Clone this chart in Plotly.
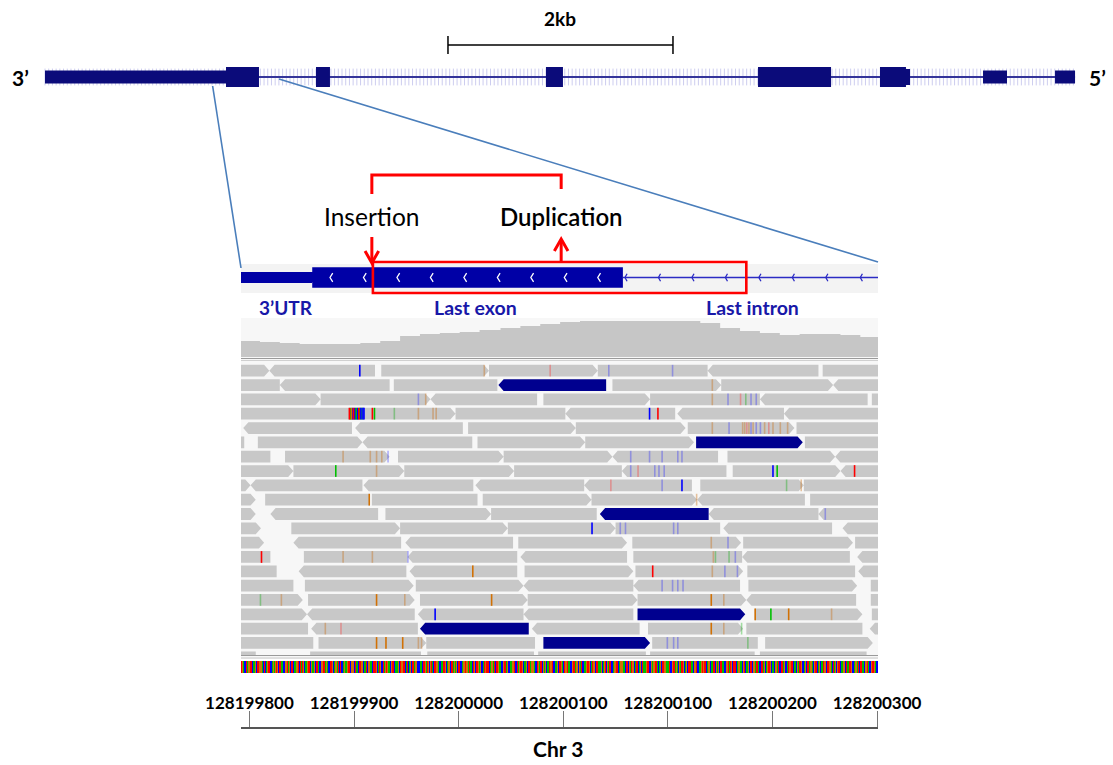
import numpy as np
import plotly.graph_objects as go

W, H = 1113, 765

# ---------------- gene overview track (kb measured from the 3' end) ----------------
exon_start_kb = [0.000, 1.609, 2.409, 4.453, 6.338, 7.422, 7.653, 8.338, 8.978]
exon_end_kb = [1.609, 1.902, 2.533, 4.604, 6.987, 7.653, 7.689, 8.551, 9.156]
exon_kind = ["utr", "cds", "cds", "cds", "cds", "cds", "mid", "utr", "utr"]
gene_span_kb = [0.0, 9.156]
scalebar_kb = [3.582, 5.582]
zoom_window_kb = [1.49, 2.08]

# ---------------- zoomed locus (bp offsets from view_start) ----------------
view_start = 128199800
view_offsets = [-8.1, 600.9]
ruler_offsets = [0, 100, 200, 300, 400, 500, 600]
ruler_labels = ["128199800", "128199900", "128200000", "128200100",
                "128200100", "128200200", "128200300"]

utr_offsets = [-10, 60]
last_exon_offsets = [60, 357]
last_intron_offsets = [357, 612]
exon_chevrons = [77, 109, 141, 173, 205, 237, 269, 301, 333]
intron_chevrons = [359, 391, 423, 455, 487, 519, 551, 584]

insertion_offset = 117
duplication_offset = 298
duplicated_box = [118, 475]

coverage_offsets = [-10, 10, 29, 48, 67, 87, 106, 125, 144, 163, 182, 201, 220, 240,
                    259, 278, 297, 316, 335, 373, 412, 431, 450, 469, 488, 507, 526,
                    545, 565, 584, 602]
coverage_depth = [16, 15, 14, 13, 13, 13, 14, 16, 21, 23, 24, 25, 27, 29,
                  31, 33, 35, 36, 36, 36, 36, 34, 29, 26, 24, 22, 23,
                  23, 22, 20, 18]

# aligned reads: (row, start, end, strand)  strand 1 = forward, -1 = reverse, 0 = clipped
gray_reads = [
    (1, -10, 19, 1), (1, 19, 120, -1), (1, 126, 229, 1), (1, 229, 333, 1), (1, 333, 438, 0), (1, 438, 544, -1), (1, 548, 612, 0),
    (2, -10, 29, 0), (2, 29, 134, -1), (2, 138, 237, 0), (2, 347, 451, 1), (2, 451, 558, 1), (2, 558, 612, -1),
    (3, -10, 68, 1), (3, 68, 173, 1), (3, 173, 275, -1), (3, 281, 383, 1), (3, 383, 488, 0), (3, 488, 591, -1), (3, 595, 612, 0),
    (4, -10, 95, 0), (4, 95, 197, 1), (4, 197, 302, 0), (4, 302, 407, -1), (4, 409, 511, -1), (4, 511, 612, -1),
    (5, -6, 98, -1), (5, 101, 204, -1), (5, 209, 312, 1), (5, 312, 417, 1), (5, 419, 521, 1), (5, 523, 612, 0),
    (6, -10, -5, 0), (6, 8, 108, 1), (6, 108, 213, -1), (6, 218, 321, 1), (6, 321, 425, 1), (6, 531, 612, 0),
    (7, -10, 20, 0), (7, 34, 134, 1), (7, 142, 243, 1), (7, 243, 347, 1), (7, 347, 448, -1), (7, 457, 560, 1), (7, 560, 612, -1),
    (8, -10, 42, 1), (8, 42, 148, 1), (8, 148, 253, 1), (8, 253, 356, 0), (8, 356, 456, -1), (8, 462, 565, 1), (8, 565, 612, -1),
    (9, -10, 1, 1), (9, 1, 108, -1), (9, 109, 214, -1), (9, 216, 320, -1), (9, 320, 423, -1), (9, 431, 530, 1), (9, 530, 612, 0),
    (10, -10, 6, 1), (10, 15, 115, 0), (10, 117, 218, 0), (10, 223, 327, 1), (10, 327, 428, 1), (10, 428, 531, -1), (10, 536, 612, 0),
    (11, -10, 6, 1), (11, 20, 123, -1), (11, 130, 231, 1), (11, 231, 332, 0), (11, 439, 544, -1), (11, 544, 612, -1),
    (12, -10, 11, 1), (12, 40, 144, 1), (12, 144, 247, 1), (12, 247, 350, 1), (12, 350, 450, 0), (12, 453, 557, -1), (12, 567, 612, -1),
    (13, -10, 14, 1), (13, 42, 145, -1), (13, 149, 252, -1), (13, 257, 361, 1), (13, 366, 470, 1), (13, 472, 577, 1), (13, 579, 612, 0),
    (14, -10, 20, 0), (14, 52, 151, 0), (14, 151, 256, -1), (14, 259, 361, -1), (14, 367, 471, 0), (14, 471, 574, -1), (14, 581, 612, -1),
    (15, -10, 26, 0), (15, 47, 150, -1), (15, 153, 256, -1), (15, 263, 367, 1), (15, 369, 472, 1), (15, 476, 579, 0), (15, 582, 612, -1),
    (16, -10, 42, 0), (16, 53, 157, 1), (16, 159, 262, 1), (16, 262, 367, -1), (16, 367, 469, -1), (16, 477, 581, 1), (16, 594, 612, 0),
    (17, -10, 51, 1), (17, 56, 158, 1), (17, 163, 266, 1), (17, 266, 371, 1), (17, 371, 475, 1), (17, 475, 580, -1), (17, 594, 612, 0),
    (18, -10, 55, 1), (18, 55, 158, -1), (18, 161, 262, -1), (18, 262, 367, -1), (18, 483, 586, 1), (18, 595, 612, 0),
    (19, -10, 56, 0), (19, 59, 161, -1), (19, 270, 373, -1), (19, 381, 472, 1), (19, 475, 586, 0), (19, 593, 612, -1),
    (20, -10, 61, 0), (20, 66, 169, 1), (20, 169, 273, 0), (20, 385, 486, 0), (20, 493, 596, 1),
    (21, -10, 6, 0), (21, 58, 164, 0), (21, 170, 272, 0), (21, 276, 379, 0), (21, 383, 483, 0), (21, 488, 590, 0),
]
# discordant reads supporting the tandem duplication
split_reads = [
    (2, 238, 341, -1), (6, 427, 529, 1), (11, 335, 439, -1),
    (18, 371, 474, 1), (19, 163, 267, -1), (20, 281, 383, 1),
]
# mismatching bases: (row, offset, base, high quality)
mismatches = [
    (1, 105, "C", 1), (1, 224, "G", 0), (1, 287, "T", 0), (1, 343, "C", 0), (1, 404, "C", 0),
    (2, 442, "G", 0),
    (3, 161, "C", 0), (3, 168, "G", 0), (3, 442, "G", 0), (3, 457, "C", 0), (3, 469, "T", 0),
    (3, 474, "A", 0), (3, 479, "C", 0), (3, 484, "C", 0),
    (4, 95, "T", 1), (4, 96, "A", 1), (4, 97, "G", 1), (4, 98, "C", 1), (4, 99, "T", 1),
    (4, 100, "C", 1), (4, 101, "A", 1), (4, 102, "A", 1), (4, 103, "C", 1), (4, 104, "T", 1),
    (4, 105, "A", 1), (4, 106, "C", 1), (4, 107, "A", 1), (4, 108, "C", 1), (4, 109, "C", 1),
    (4, 117, "T", 1), (4, 119, "A", 1), (4, 138, "A", 0), (4, 161, "G", 0), (4, 175, "G", 0),
    (4, 178, "G", 0), (4, 382, "C", 1), (4, 390, "T", 1),
    (5, 442, "G", 0), (5, 458, "C", 0), (5, 471, "G", 0), (5, 473, "G", 0), (5, 475, "T", 0),
    (5, 477, "G", 0), (5, 479, "C", 0), (5, 481, "G", 0), (5, 484, "C", 0), (5, 488, "C", 0),
    (5, 492, "G", 0), (5, 496, "T", 0), (5, 500, "G", 0), (5, 507, "G", 0), (5, 514, "G", 0),
    (7, 89, "G", 0), (7, 115, "G", 0), (7, 121, "G", 0), (7, 126, "G", 0), (7, 132, "C", 0),
    (7, 364, "C", 0), (7, 382, "C", 0), (7, 394, "C", 0), (7, 409, "C", 0), (7, 413, "C", 0),
    (8, 82, "A", 1), (8, 121, "G", 0), (8, 364, "C", 0), (8, 371, "T", 0), (8, 387, "C", 0),
    (8, 391, "C", 0), (8, 396, "C", 0), (8, 500, "C", 1), (8, 504, "A", 1), (8, 578, "T", 1),
    (9, 345, "T", 0), (9, 394, "C", 0), (9, 413, "C", 1), (9, 513, "A", 0), (9, 527, "G", 0),
    (10, 114, "G", 1), (10, 427, "G", 0),
    (11, 550, "C", 0),
    (12, 327, "C", 1), (12, 354, "C", 0), (12, 359, "C", 0), (12, 405, "C", 0), (12, 409, "C", 0),
    (13, 441, "G", 0), (13, 457, "C", 0),
    (14, 11, "T", 1), (14, 89, "G", 0), (14, 117, "G", 0), (14, 151, "C", 0), (14, 443, "G", 0),
    (14, 445, "A", 0), (14, 458, "A", 0), (14, 464, "C", 0),
    (15, 213, "G", 1), (15, 385, "T", 1), (15, 442, "G", 0), (15, 454, "C", 0), (15, 466, "C", 0),
    (16, 394, "C", 0), (16, 404, "C", 0), (16, 409, "C", 0), (16, 414, "C", 0),
    (17, 10, "A", 0), (17, 30, "G", 0), (17, 121, "G", 1), (17, 148, "G", 0), (17, 231, "G", 1),
    (17, 441, "G", 1), (17, 453, "G", 0),
    (18, 177, "C", 1), (18, 483, "G", 1), (18, 498, "A", 1), (18, 515, "G", 1), (18, 556, "G", 0),
    (19, 72, "G", 0), (19, 87, "T", 0), (19, 441, "G", 1), (19, 453, "G", 0), (19, 470, "A", 0),
    (20, 121, "G", 1), (20, 130, "G", 1), (20, 146, "G", 1), (20, 161, "G", 0), (20, 164, "G", 0),
    (20, 399, "C", 0), (20, 405, "C", 0), (20, 409, "C", 0), (20, 476, "A", 0),
]

# reference sequence across the view, first base at offset -8
sequence_start_offset = -8
reference_sequence = (
    "TGACCTAGGTTCAAGCTTGGACTCAGTTCCAGAGTGCTTAACGGTAGCTTCAAGGTCTAT"
    "GCAGTTCGAAGCTTACCGGTTAGACTTGCAGGATCTCCAGAAGTTCGGCTAACTTGGCAA"
    "TCGGAACTTGCATGCCTAGTGAACGTTCAAGCTGGTTCATCAGCTTAGGCCAACTTGATG"
    "CGTACTTGGACCATTGCAGGCTTAGAGCTTCCAGTGGATAACTGCTTGAGCCATGTTCAG"
    "GATCTTGAACCGTTAGCAAGGTCCTAGTTGCAAGCTTAGGACCTGATTCGAGCAATGGTC"
    "AAGCTTGACTGGTAACCGTTAGCGATCCAAGTTGCATGGCTTAAGCAGTCGATTCCAGGT"
    "TCAGGAACTTCGATGGCATTCAGCTAAGTTCCGAGGTTACAGCTTGGAATCCGTTAGACG"
    "ATTGCAGCTTAACGGTCCAAGTGTTCAGGCATTCGAGCTTAACCGGTATGCTTCAGGAAC"
    "GTCAAGCTTCGGATACCTTAGCAGTTGCAACGGATCTTAGCCATGGTTCAACGATTGCAG"
    "CTTAGGACGTTCAGCAATGCTTGGACTAGCGTTCAAGGCTATTGCCAGGATCTTAACGGT"
    "ACGTTGACCATGGTCAAGCTAGGCT"
)

# ---------------- styling ----------------
NAVY_TOP = "#0b0b7a"
GENE_BLUE = "#0000a6"
READ_GRAY = "#c8c8c8"
READ_BLUE = "#00008f"
RED = "#ff0000"
ZOOM_LINE = "#4a7ebb"
BASE_COLOR = {"A": "#00c000", "C": "#0000ff", "G": "#d17105", "T": "#ff0000"}
BASE_FAINT = {"A": "rgba(0,170,0,0.35)", "C": "rgba(40,40,255,0.35)",
              "G": "rgba(200,110,20,0.4)", "T": "rgba(255,40,40,0.35)"}
FONT = "Lato"

PX_PER_KB = 112.5
TOP_RANGE = [-0.4, -0.4 + W / PX_PER_KB]
LOWER_X = [241, 878]          # pixel span of the zoomed panel
ROW_PX, ROW0_PX = 14.33, 370.7
READS_PX = [360, 656]


def fy(px):
    return 1 - px / H


def fx(px):
    return px / W


def gpos(off):
    return view_start + np.asarray(off, dtype=float)


reads_range = [1 + (READS_PX[1] - ROW0_PX) / ROW_PX, 1 + (READS_PX[0] - ROW0_PX) / ROW_PX]

fig = go.Figure()

# ---------- overview gene ----------
hatch_x = np.arange(gene_span_kb[0], gene_span_kb[1], 0.033)
fig.add_trace(go.Scatter(
    x=hatch_x, y=np.zeros_like(hatch_x), mode="markers", xaxis="x", yaxis="y",
    marker=dict(symbol="line-ns", size=12, line=dict(width=1, color="rgba(130,130,215,0.4)")),
    hoverinfo="skip", showlegend=False))
fig.add_trace(go.Scatter(
    x=gene_span_kb, y=[0, 0], mode="lines", xaxis="x", yaxis="y",
    line=dict(color="#34349a", width=2.2), hoverinfo="skip", showlegend=False))

half_height = {"cds": 0.5, "utr": 0.33, "mid": 0.4}
ex, ey = [], []
for s, e, k in zip(exon_start_kb, exon_end_kb, exon_kind):
    h = half_height[k]
    ex += [s, e, e, s, s, None]
    ey += [-h, -h, h, h, -h, None]
fig.add_trace(go.Scatter(
    x=ex, y=ey, mode="lines", fill="toself", fillcolor=NAVY_TOP, xaxis="x", yaxis="y",
    line=dict(width=0, color=NAVY_TOP), hoverinfo="skip", showlegend=False))

# ---------- zoomed gene model ----------
gx, gy = [], []
for (s, e), h in ((utr_offsets, 0.36), (last_exon_offsets, 0.66)):
    gx += [s, e, e, s, s, None]
    gy += [-h, -h, h, h, -h, None]
fig.add_trace(go.Scatter(
    x=[None if v is None else view_start + v for v in gx], y=gy, mode="lines",
    fill="toself", fillcolor=GENE_BLUE, line=dict(width=0, color=GENE_BLUE),
    xaxis="x2", yaxis="y5", hoverinfo="skip", showlegend=False))
fig.add_trace(go.Scatter(
    x=gpos(last_intron_offsets), y=[0, 0], mode="lines", xaxis="x2", yaxis="y5",
    line=dict(color="#2b2bc4", width=1.4), hoverinfo="skip", showlegend=False))


def chevrons(offsets, depth, half):
    xs, ys = [], []
    for p in offsets:
        xs += [view_start + p + depth, view_start + p, view_start + p + depth, None]
        ys += [half, 0, -half, None]
    return xs, ys


cx, cy = chevrons(exon_chevrons, 2.6, 0.28)
fig.add_trace(go.Scatter(x=cx, y=cy, mode="lines", xaxis="x2", yaxis="y5",
                         line=dict(color="white", width=1.3), hoverinfo="skip", showlegend=False))
cx, cy = chevrons(intron_chevrons, 2.0, 0.24)
fig.add_trace(go.Scatter(x=cx, y=cy, mode="lines", xaxis="x2", yaxis="y5",
                         line=dict(color="#2b2bc4", width=1.3), hoverinfo="skip", showlegend=False))

# ---------- coverage ----------
fig.add_trace(go.Scatter(
    x=gpos(coverage_offsets), y=coverage_depth, mode="lines", line_shape="hv",
    fill="tozeroy", fillcolor="#c6c6c6", line=dict(width=0, color="#c6c6c6"),
    xaxis="x2", yaxis="y3", hoverinfo="skip", showlegend=False))

# ---------- reads ----------
HALF, TIP = 0.41, 5.0


def read_polygons(reads):
    xs, ys = [], []
    for row, s, e, d in reads:
        s, e = view_start + s, view_start + e
        if d == 1:
            px = [s, e - TIP, e, e - TIP, s, s]
            py = [row - HALF, row - HALF, row, row + HALF, row + HALF, row - HALF]
        elif d == -1:
            px = [s + TIP, e, e, s + TIP, s, s + TIP]
            py = [row - HALF, row - HALF, row + HALF, row + HALF, row, row - HALF]
        else:
            px = [s, e, e, s, s]
            py = [row - HALF, row - HALF, row + HALF, row + HALF, row - HALF]
        xs += px + [None]
        ys += py + [None]
    return xs, ys


rx, ry = read_polygons(gray_reads)
fig.add_trace(go.Scatter(x=rx, y=ry, mode="lines", fill="toself", fillcolor=READ_GRAY,
                         line=dict(width=0, color=READ_GRAY), xaxis="x2", yaxis="y2",
                         hoverinfo="skip", showlegend=False))
rx, ry = read_polygons(split_reads)
fig.add_trace(go.Scatter(x=rx, y=ry, mode="lines", fill="toself", fillcolor=READ_BLUE,
                         line=dict(width=0, color=READ_BLUE), xaxis="x2", yaxis="y2",
                         hoverinfo="skip", showlegend=False))

for quality in (0, 1):
    for base in "ACGT":
        mx, my = [], []
        for row, off, b, q in mismatches:
            if b == base and q == quality:
                mx += [view_start + off + 0.5] * 2 + [None]
                my += [row - HALF, row + HALF, None]
        if mx:
            color = BASE_COLOR[base] if quality else BASE_FAINT[base]
            fig.add_trace(go.Scatter(x=mx, y=my, mode="lines", xaxis="x2", yaxis="y2",
                                     line=dict(color=color, width=1.6),
                                     hoverinfo="skip", showlegend=False))

# ---------- reference sequence ----------
base_code = {"A": 0, "C": 1, "G": 2, "T": 3}
seq_x = view_start + sequence_start_offset + np.arange(len(reference_sequence))
fig.add_trace(go.Heatmap(
    x=seq_x, y=[0], z=[[base_code[b] for b in reference_sequence]], zmin=0, zmax=3,
    colorscale=[[0, BASE_COLOR["A"]], [0.25, BASE_COLOR["A"]], [0.25, BASE_COLOR["C"]],
                [0.5, BASE_COLOR["C"]], [0.5, BASE_COLOR["G"]], [0.75, BASE_COLOR["G"]],
                [0.75, BASE_COLOR["T"]], [1, BASE_COLOR["T"]]],
    showscale=False, xaxis="x2", yaxis="y4", hoverinfo="skip"))

# ruler anchor
fig.add_trace(go.Scatter(x=[None], y=[None], xaxis="x2", yaxis="y6", showlegend=False))

# ---------- shapes ----------
shapes = []
# panel backgrounds
shapes.append(dict(type="rect", xref="x2 domain", yref="paper", x0=0, x1=1,
                   y0=fy(657), y1=fy(318), fillcolor="#f7f7f7", line_width=0, layer="below"))
shapes.append(dict(type="rect", xref="x2 domain", yref="paper", x0=0, x1=1,
                   y0=fy(293), y1=fy(264), fillcolor="#f3f3f3", line_width=0, layer="below"))
# separator lines
for ypx, col in ((358.5, "#9a9a9a"), (360.5, "#d0d0d0"), (655.5, "#9a9a9a"), (658, "#c0c0c0")):
    shapes.append(dict(type="line", xref="x2 domain", yref="paper", x0=0, x1=1,
                       y0=fy(ypx), y1=fy(ypx), line=dict(color=col, width=1)))

# scale bar
shapes.append(dict(type="line", xref="x", yref="paper", x0=scalebar_kb[0], x1=scalebar_kb[1],
                   y0=fy(45), y1=fy(45), line=dict(color="black", width=1.5)))
for kb in scalebar_kb:
    shapes.append(dict(type="line", xref="x", yref="paper", x0=kb, x1=kb,
                       y0=fy(36), y1=fy(54), line=dict(color="black", width=1.5)))


# zoom guides from overview to the locus panel
def kb_to_paper(kb):
    return (kb - TOP_RANGE[0]) / (TOP_RANGE[1] - TOP_RANGE[0])


shapes.append(dict(type="line", xref="paper", yref="paper",
                   x0=kb_to_paper(zoom_window_kb[0]), y0=fy(86), x1=fx(LOWER_X[0]), y1=fy(268),
                   line=dict(color=ZOOM_LINE, width=1.6)))
shapes.append(dict(type="line", xref="paper", yref="paper",
                   x0=kb_to_paper(zoom_window_kb[1]), y0=fy(79), x1=fx(LOWER_X[1]), y1=fy(262),
                   line=dict(color=ZOOM_LINE, width=1.6)))

# duplicated segment box
shapes.append(dict(type="rect", xref="x2", yref="paper",
                   x0=view_start + duplicated_box[0], x1=view_start + duplicated_box[1],
                   y0=fy(293), y1=fy(262), line=dict(color=RED, width=2.6)))

ins_x = view_start + insertion_offset
dup_x = view_start + duplication_offset
# bracket linking insertion site and duplication end
shapes.append(dict(type="path", xref="x2", yref="paper",
                   path=f"M {ins_x},{fy(194)} L {ins_x},{fy(175)} L {dup_x},{fy(175)} L {dup_x},{fy(189)}",
                   line=dict(color=RED, width=3)))
# insertion arrow (down) and duplication arrow (up)
shapes.append(dict(type="line", xref="x2", yref="paper", x0=ins_x, x1=ins_x,
                   y0=fy(237), y1=fy(262), line=dict(color=RED, width=3)))
shapes.append(dict(type="path", xref="x2", yref="paper",
                   path=f"M {ins_x - 6.5},{fy(251)} L {ins_x},{fy(263)} L {ins_x + 6.5},{fy(251)}",
                   line=dict(color=RED, width=3)))
shapes.append(dict(type="line", xref="x2", yref="paper", x0=dup_x, x1=dup_x,
                   y0=fy(262), y1=fy(241), line=dict(color=RED, width=3)))
shapes.append(dict(type="path", xref="x2", yref="paper",
                   path=f"M {dup_x - 6.5},{fy(251)} L {dup_x},{fy(239)} L {dup_x + 6.5},{fy(251)}",
                   line=dict(color=RED, width=3)))

# ---------- text ----------
ann = []


def label(text, x, y, size, color="black", weight="normal", xref="paper", family=FONT):
    ann.append(dict(text=text, x=x, y=y, xref=xref, yref="paper", showarrow=False,
                    xanchor="center", yanchor="middle",
                    font=dict(family=family, size=size, color=color, weight=weight)))


label("3’", fx(20), fy(78), 21, weight="bold")
label("5’", fx(1097), fy(78), 21, weight="bold")
label("2kb", sum(scalebar_kb) / 2, fy(18), 19, weight="bold", xref="x")
label("Insertion", ins_x, fy(216), 24.5, xref="x2")
label("Duplication", dup_x, fy(216), 24, weight=600, xref="x2")
label("3’UTR", view_start + 35, fy(307), 19, color="#1818a8", weight="bold", xref="x2")
label("Last exon", view_start + 216, fy(307), 19.5, color="#1818a8", weight="bold", xref="x2")
label("Last intron", view_start + 481, fy(307), 19.5, color="#1818a8", weight="bold", xref="x2")
label("Chr 3", fx(558), fy(748), 21, weight="bold")

hidden = dict(visible=False, showgrid=False, zeroline=False)
fig.update_layout(
    width=W, height=H, margin=dict(l=0, r=0, t=0, b=0),
    paper_bgcolor="white", plot_bgcolor="rgba(0,0,0,0)", template="none",
    showlegend=False, shapes=shapes, annotations=ann,
    xaxis=dict(domain=[0, 1], range=TOP_RANGE, anchor="y", **hidden),
    yaxis=dict(domain=[fy(97), fy(57)], range=[-1, 1], anchor="x", **hidden),
    xaxis2=dict(domain=[fx(LOWER_X[0]), fx(LOWER_X[1])],
                range=[view_start + view_offsets[0], view_start + view_offsets[1]],
                anchor="y6", side="top", showline=True, linecolor="#555555", linewidth=2,
                ticks="outside", ticklen=16, tickwidth=1, tickcolor="#777777",
                tickvals=list(gpos(ruler_offsets)), ticktext=ruler_labels,
                ticklabelstandoff=-5,
                tickfont=dict(family=FONT, size=17, color="black", weight="bold"),
                showgrid=False, zeroline=False),
    yaxis2=dict(domain=[fy(READS_PX[1]), fy(READS_PX[0])], range=reads_range, anchor="x2", **hidden),
    yaxis3=dict(domain=[fy(357), fy(318)], range=[0, 39], anchor="x2", **hidden),
    yaxis4=dict(domain=[fy(673), fy(661)], range=[-0.5, 0.5], anchor="x2", **hidden),
    yaxis5=dict(domain=[fy(293), fy(262)], range=[-1, 1], anchor="x2", **hidden),
    yaxis6=dict(domain=[fy(760), fy(729)], range=[0, 1], anchor="x2", **hidden),
)

fig.write_html("out.html")
